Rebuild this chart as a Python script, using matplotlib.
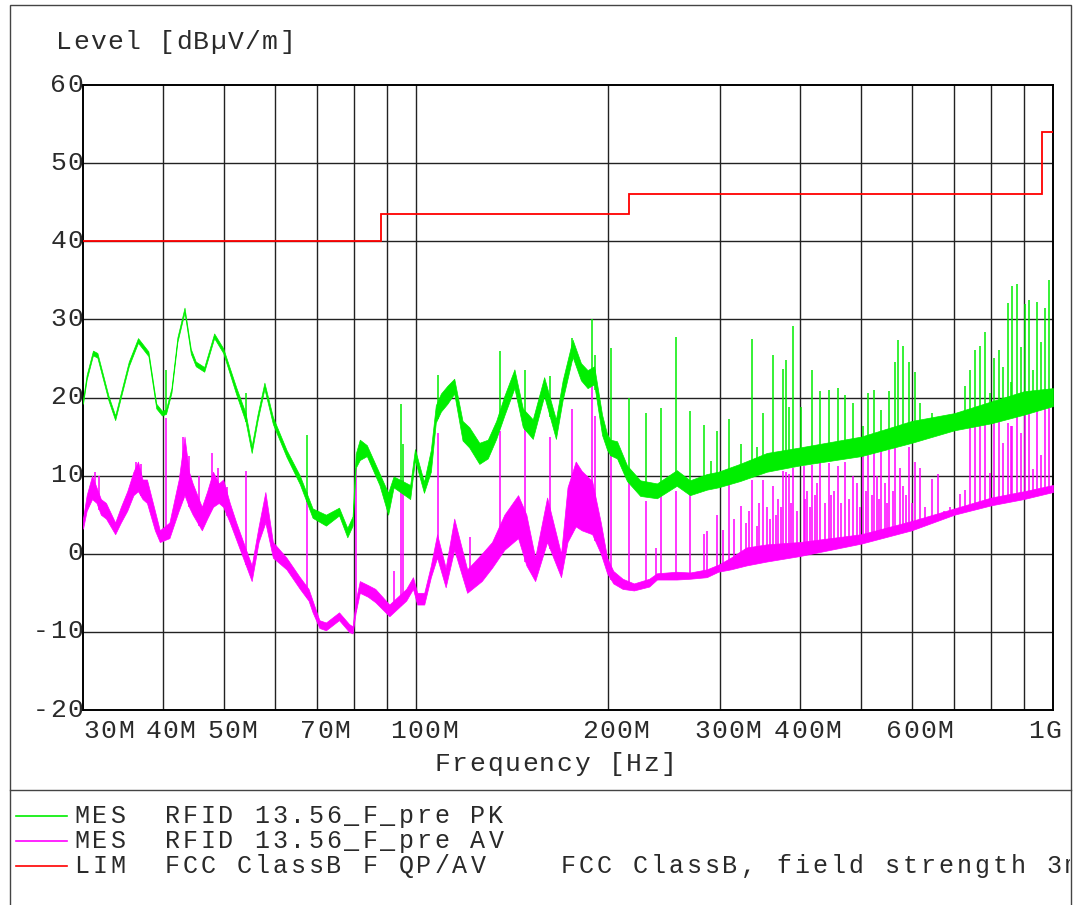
import numpy as np
import matplotlib.pyplot as plt
from matplotlib.patches import Rectangle
from matplotlib.lines import Line2D

W, H = 1082, 905
AX_L, AX_R, AX_T, AX_B = 83, 1053, 85, 710   # plot box in pixels
F_MIN, F_MAX = 30.0, 1000.0                  # MHz
Y_MIN, Y_MAX = -20, 60

# ---- PK trace (green): frequency [MHz], lower / upper edge of the trace [dBuV/m]
pk_freq = [30.0, 30.4, 31.1, 31.6, 32.9, 33.7, 34.4, 35.4, 36.6, 38.0, 39.1, 39.9, 40.5, 41.3,
           42.2, 43.3, 44.3, 45.1, 46.5, 48.2, 49.8, 52.2, 54.0, 55.2, 56.4, 57.8, 59.6, 62.6,
           65.7, 68.8, 72.2, 75.7, 78.0, 79.5, 80.4, 81.6, 83.7, 87.6, 90.4, 92.2, 97.9, 99.6,
           102.9, 105.5, 107.4, 109.4, 112.0, 114.8, 118.3, 121.2, 125.7, 129.6, 133.6, 137.6,
           142.7, 147.1, 152.5, 158.9, 165.8, 169.9, 176.1, 181.5, 185.9, 190.4, 195.9, 199.5,
           201.9, 206.8, 214.4, 224.9, 238.9, 256.6, 269.2, 286.0, 298.2, 322.4, 355.4, 400.0,
           500.0, 600.0, 700.0, 800.0, 900.0, 1000.0]
pk_lo = [19.2, 22.3, 25.4, 25.1, 19.6, 17.1, 20.0, 24.0, 27.0, 25.3, 18.6, 17.7, 17.9, 20.6,
         27.1, 30.9, 25.6, 24.0, 23.3, 27.6, 25.7, 20.4, 16.9, 12.9, 17.1, 21.1, 16.6, 12.4,
         8.9, 4.6, 3.6, 4.9, 2.1, 3.6, 11.0, 12.0, 12.5, 8.8, 5.0, 8.5, 7.0, 12.0,
         7.8, 10.5, 16.8, 18.2, 19.2, 20.5, 14.5, 13.6, 11.5, 12.2, 14.7, 17.7,
         21.2, 16.2, 14.7, 20.2, 14.7, 19.7, 25.2, 22.2, 21.2, 21.7, 15.2, 13.3,
         12.6, 12.2, 9.3, 7.4, 7.1, 8.7, 7.5, 8.2, 8.5, 9.3, 10.5, 11.3,
         12.5, 14.2, 15.8, 16.7, 17.8, 18.9]
pk_hi = [19.8, 22.9, 26.0, 25.7, 20.2, 17.7, 20.6, 24.6, 27.6, 25.9, 19.2, 18.3, 18.5, 21.2,
         27.7, 31.5, 26.2, 24.6, 23.9, 28.2, 26.3, 21.3, 18.0, 13.8, 17.9, 21.9, 17.5, 13.3,
         10.0, 5.8, 5.0, 5.9, 3.3, 4.8, 12.8, 14.6, 13.9, 10.3, 7.8, 9.9, 8.8, 13.4,
         9.2, 13.3, 19.0, 20.5, 21.5, 22.4, 17.0, 16.2, 14.2, 14.6, 17.0, 20.2,
         23.6, 18.6, 17.2, 22.6, 17.2, 22.2, 27.4, 24.4, 23.5, 24.0, 17.8, 15.3,
         14.6, 14.4, 11.3, 9.4, 9.0, 10.7, 9.4, 10.2, 10.5, 11.5, 12.9, 13.6,
         15.0, 17.0, 18.0, 19.5, 20.8, 21.2]

# ---- AV trace (magenta)
av_freq = [30.0, 30.4, 31.0, 31.5, 32.0, 32.6, 33.7, 34.4, 35.2, 36.0, 36.6, 37.2, 37.8, 38.9,
           39.6, 41.0, 42.4, 43.3, 44.0, 44.6, 46.1, 47.0, 48.0, 49.0, 49.8, 51.0, 52.2, 55.2,
           56.6, 58.0, 59.6, 62.6, 65.7, 67.8, 68.8, 70.5, 72.2, 75.7, 78.5, 79.5, 80.4, 81.6,
           84.0, 86.3, 90.8, 96.5, 98.9, 100.4, 103.0, 105.5, 107.9, 111.3, 114.8, 120.3, 126.8,
           131.6, 137.6, 144.6, 149.0, 153.8, 160.6, 168.9, 172.9, 178.1, 182.0, 189.0, 195.0,
           199.5, 204.0, 211.0, 219.8, 232.3, 238.9, 256.6, 269.2, 286.0, 298.2, 312.0, 330.0,
           355.0, 400.0, 500.0, 600.0, 700.0, 800.0, 900.0, 1000.0]
av_lo = [3.2, 5.5, 7.0, 6.5, 5.0, 4.5, 2.5, 4.0, 5.5, 7.5, 8.0, 7.0, 6.5, 3.0,
         1.5, 2.0, 5.5, 7.5, 6.0, 5.0, 3.0, 4.5, 6.0, 6.5, 6.0, 4.0, 1.8, -3.5,
         1.5, 4.0, -0.5, -2.0, -4.5, -6.0, -7.5, -9.5, -9.8, -8.5, -10.0, -10.2, -7.5, -5.0,
         -5.5, -6.2, -8.0, -6.0, -4.5, -6.5, -6.5, -3.0, -0.5, -4.3, 0.5, -5.0, -3.5,
         -1.8, 0.5, 2.0, -1.5, -3.5, 1.5, -3.0, 1.5, 3.5, 3.0, 2.5, 0.0,
         -2.5, -3.8, -4.5, -4.7, -4.2, -3.3, -3.3, -3.2, -3.0, -2.3, -2.0, -1.5,
         -1.0, -0.3, 1.3, 3.0, 5.0, 6.2, 7.0, 7.9]
av_hi = [4.5, 7.5, 10.0, 8.5, 7.0, 6.5, 4.0, 6.0, 8.0, 10.5, 11.8, 9.5, 9.5, 5.5,
         3.0, 4.0, 9.5, 15.0, 10.5, 9.0, 6.0, 8.0, 10.5, 9.0, 9.5, 6.5, 4.0, -1.5,
         3.5, 7.9, 1.5, -0.5, -3.0, -4.5, -6.0, -8.5, -8.8, -7.5, -9.0, -9.3, -6.0, -3.5,
         -4.0, -4.5, -6.5, -4.5, -3.0, -5.0, -5.0, -1.5, 2.5, -1.8, 4.5, -2.0, 0.0,
         1.5, 5.0, 7.5, 5.0, -0.5, 7.2, 0.0, 8.5, 11.8, 10.6, 9.3, 4.0,
         -0.5, -2.2, -3.2, -3.8, -3.2, -2.5, -2.3, -2.4, -2.0, -1.4, -0.5, 0.8,
         1.2, 1.5, 2.5, 4.2, 5.8, 7.2, 8.0, 8.8]

# ---- narrow spikes: frequency [MHz], PK top, AV top (nan = no spike on that trace)
nan = np.nan
spike_freq = [31.3, 31.8, 36.3, 37.0, 40.5, 43.0, 44.0, 45.7, 47.8, 48.8, 50.5,
              54.0, 67.3, 80.4, 92.4, 94.6, 95.4, 108.1, 121.7, 135.5, 148.5, 162.3,
              175.5, 189.0, 191.0, 202.6, 215.9, 229.6, 238.4, 242.6, 256.3, 269.2, 283.2,
              286.0, 290.7, 296.5, 303.0, 309.9, 316.0, 323.2, 329.1, 333.0, 337.0, 342.5,
              346.0, 350.0, 355.4, 359.0, 364.0, 367.0, 370.6, 374.0, 377.4, 381.1, 385.2,
              388.0, 391.3, 396.0, 402.4, 405.8, 408.0, 411.0, 415.0, 419.1, 423.0, 426.2,
              431.0, 438.0, 444.2, 448.0, 452.6, 459.5, 465.0, 471.7, 478.0, 485.0, 492.2,
              497.0, 502.9, 508.0, 513.2, 519.0, 524.4, 528.9, 533.0, 537.2, 545.4, 549.0,
              553.6, 560.0, 565.1, 571.9, 575.7, 581.1, 588.0, 593.8, 600.0, 607.5, 618.7,
              630.0, 646.0, 660.9, 675.0, 690.0,
              714.5, 726.9, 740.8, 753.8, 768.0, 781.5, 796.3, 807.4, 822.1, 835.0, 849.5,
              858.0, 862.7, 876.4, 889.8, 903.3, 917.5, 930.8, 944.3, 957.0, 971.0, 985.7]
spike_pk = [nan, nan, nan, nan, 23.5, nan, nan, nan, nan, nan, nan,
            20.6, 15.2, nan, nan, 19.2, 14.0, 22.9, nan, 25.9, 23.5, 22.7,
            27.6, 30.0, 25.5, 26.4, 19.9, 18.0, nan, 18.6, 27.8, 18.3, 16.5,
            nan, 11.9, 15.7, nan, 17.2, nan, 14.0, nan, nan, 27.5, 13.7,
            nan, 18.0, nan, nan, 25.4, nan, nan, nan, 23.6, 24.8, 18.8,
            nan, 29.1, nan, 18.8, nan, nan, nan, nan, 23.5, nan, nan,
            20.8, nan, 21.0, nan, nan, 21.2, nan, 20.3, nan, 19.3, nan,
            nan, 16.3, nan, 20.6, nan, 21.0, nan, nan, 18.4, nan, nan,
            20.8, nan, 24.5, 27.4, nan, 26.6, nan, 24.5, nan, 23.3, 19.3,
            nan, 18.0, nan, nan, nan,
            nan, 21.5, 23.5, 26.1, 26.6, 28.4, 20.6, 25.0, 26.1, 23.9, 32.1,
            22.0, 34.3, 34.5, 26.5, 32.0, 32.5, 23.5, 32.2, 27.1, 31.5, 35.1]
spike_av = [10.5, 10.0, 11.8, 11.5, 17.4, 15.0, 12.5, 10.0, 12.9, 11.0, 8.5,
            10.6, 7.9, 11.0, -2.2, 9.4, 9.4, 15.5, 2.2, 15.7, 17.8, 15.0,
            18.5, 21.5, 17.6, 13.3, 9.0, 6.8, 0.8, 7.8, 8.0, 7.8, 2.5,
            2.9, nan, 5.0, 3.0, 9.3, 4.5, 6.1, 4.0, 5.5, 9.5, 3.5,
            6.5, 9.5, 6.0, 4.5, 8.7, 5.0, 7.0, 6.0, 10.6, 10.5, 10.2,
            6.5, 11.0, 5.5, nan, 11.2, 7.0, 8.0, 6.0, 11.4, 7.5, 9.0,
            11.8, 6.5, 11.6, 7.5, 8.0, 11.2, 6.5, 11.8, 7.0, 9.9, 9.0,
            6.0, 12.7, 8.0, 12.7, 7.5, 12.9, 10.0, 7.0, 13.3, 9.0, 6.5,
            13.3, 8.0, 13.7, nan, 11.0, 8.7, 7.5, 13.7, 6.5, 11.8, 11.0,
            6.0, 9.6, 10.2, 5.5, 6.0,
            7.6, 8.2, 16.7, 16.7, 17.1, 16.9, 10.3, 17.4, 17.6, 14.2, 16.8,
            16.3, 16.3, 18.0, 15.4, 18.9, 18.2, 10.8, 18.9, 12.7, 18.6, 18.6]

# ---- limit line FCC Class B (step edges in MHz, level per step)
lim_edges = [30.0, 88.0, 216.0, 960.0, 1000.0]
lim_levels = [40.0, 43.5, 46.0, 54.0]

# axis labels
x_tick_freq = [30, 40, 50, 70, 100, 200, 300, 400, 600, 1000]
x_tick_text = ['30M', '40M', '50M', '70M', '100M', '200M', '300M', '400M', '600M', '1G']
x_grid = [40, 50, 60, 70, 80, 90, 100, 200, 300, 400, 500, 600, 700, 800, 900]
y_ticks = [60, 50, 40, 30, 20, 10, 0, -10, -20]

legend_rows = [
    ('#00ee00', 'MES  RFID 13.56_F_pre PK'),
    ('#ff00ff', 'MES  RFID 13.56_F_pre AV'),
    ('#ff0000', 'LIM  FCC ClassB F QP/AV    FCC ClassB, field strength 3m'),
]

GREEN, MAGENTA, RED = '#00ee00', '#ff00ff', '#ff0000'
FONT = 'Liberation Mono'
TXT = '#2a2a2a'

fig = plt.figure(figsize=(W / 100, H / 100), dpi=100)
ax = fig.add_axes([AX_L / W, 1 - AX_B / H, (AX_R - AX_L) / W, (AX_B - AX_T) / H])
ax.set_xscale('log')
ax.set_xlim(F_MIN, F_MAX)
ax.set_ylim(Y_MIN, Y_MAX)
ax.set_xticks([])
ax.set_yticks([])
ax.minorticks_off()
for s in ax.spines.values():
    s.set_linewidth(1.4)
    s.set_color('black')

# grid
for f in x_grid:
    ax.axvline(f, color='#222222', lw=1.0, zorder=1)
for v in range(-10, 60, 10):
    ax.axhline(v, color='#222222', lw=1.0, zorder=1)


def draw_trace(freq, lo, hi, color, z):
    ax.fill_between(freq, lo, hi, color=color, lw=0.5, edgecolor=color, zorder=z)


def draw_spikes(freq_band, lo, tops, color, z):
    sf = np.array(spike_freq)
    tops = np.array(tops)
    base = np.interp(np.log10(sf), np.log10(freq_band), lo)
    ok = ~np.isnan(tops) & (tops > base)
    ax.vlines(sf[ok], base[ok], tops[ok], color=color, lw=1.1, zorder=z)


draw_trace(av_freq, av_lo, av_hi, MAGENTA, 3)
draw_spikes(av_freq, av_lo, spike_av, MAGENTA, 3)
draw_trace(pk_freq, pk_lo, pk_hi, GREEN, 4)
draw_spikes(pk_freq, pk_lo, spike_pk, GREEN, 4)
ax.stairs(lim_levels, lim_edges, color=RED, lw=1.3, baseline=None, zorder=5)


def fx(f):
    return AX_L + (AX_R - AX_L) * np.log10(f / F_MIN) / np.log10(F_MAX / F_MIN)


def fy(v):
    return AX_T + (AX_B - AX_T) * (Y_MAX - v) / (Y_MAX - Y_MIN)


def spaced(x, y, s, pitch=17.2, size=19, anchor='left', clip=None):
    # Courier-like text with wide letter spacing, x/y in pixels (y = baseline from top)
    if anchor == 'center':
        x = x - len(s) * pitch / 2
    elif anchor == 'right':
        x = x - len(s) * pitch
    for i, ch in enumerate(s):
        if ch == ' ':
            continue
        t = fig.text((x + (i + 0.5) * pitch) / W, 1 - y / H, ch, ha='center', va='baseline',
                     fontsize=size, family=FONT, color=TXT)
        if clip is not None:
            t.set_clip_path(clip)


spaced(55, 49, 'Level [dBµV/m]')
for v in y_ticks:
    spaced(84, fy(v) + 6.5, str(v), anchor='right')
for f, lab in zip(x_tick_freq, x_tick_text):
    if f == x_tick_freq[0]:
        spaced(fx(f), 738, lab)
    elif f == x_tick_freq[-1]:
        spaced(fx(f) + 9, 738, lab, anchor='right')
    else:
        spaced(fx(f) + 8, 738, lab, anchor='center')
spaced(434, 771, 'Frequency [Hz]', pitch=17.4)

# outer frame and legend separator
frame = Rectangle((10 / W, -0.01), 1061 / W, 1.01 - 5 / H, transform=fig.transFigure,
                  fill=False, edgecolor='#444444', lw=1.0)
fig.patches.append(frame)
fig.add_artist(Line2D([10 / W, 1071 / W], [1 - 790 / H, 1 - 790 / H], color='#444444', lw=1.0))

clip_rect = Rectangle((0, 0), 1070 / W, 1, transform=fig.transFigure)
for i, (col, txt) in enumerate(legend_rows):
    yb = 823 + i * 25
    fig.add_artist(Line2D([16 / W, 67 / W], [1 - (yb - 7) / H] * 2, color=col, lw=1.2))
    spaced(73, yb, txt, pitch=18.0, size=18, clip=clip_rect)

fig.savefig('out.png', dpi=100)
